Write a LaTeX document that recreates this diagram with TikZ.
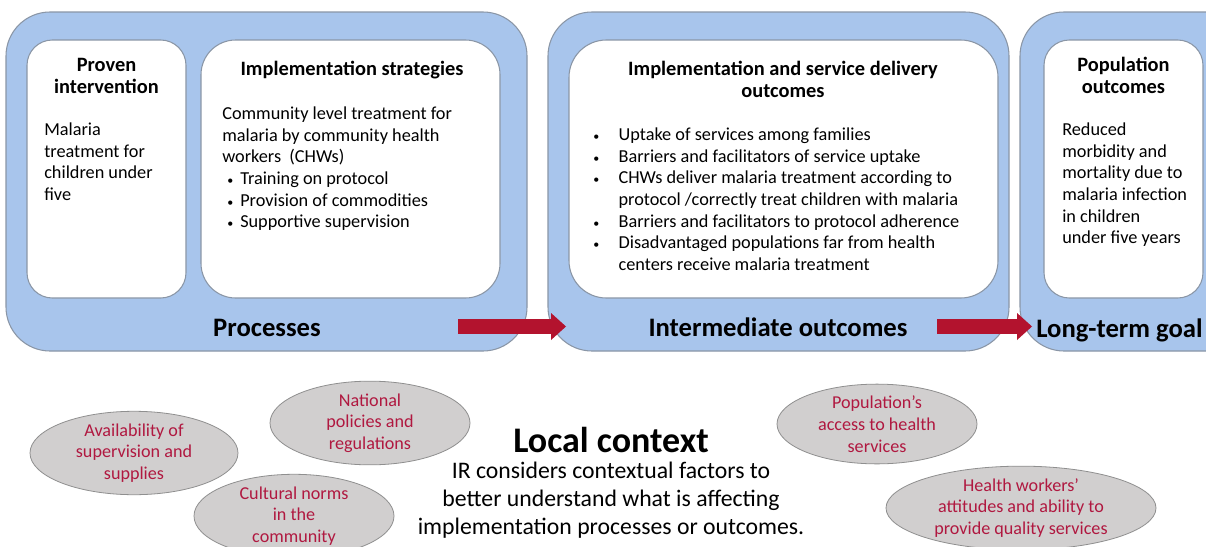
\documentclass[tikz,border=0pt]{standalone}
\usepackage{fontspec}
\setmainfont{Carlito}
\usetikzlibrary{arrows.meta,shapes.geometric,fit}
\definecolor{boxblue}{HTML}{A8C5EC}
\definecolor{boxline}{HTML}{8A96A6}
\definecolor{arrred}{HTML}{B3132E}
\definecolor{ellfill}{HTML}{D1CFCF}
\definecolor{ellline}{HTML}{8F8F8F}
\definecolor{elltext}{HTML}{B01840}
\newcommand\sbul{\hspace*{3.75pt}\makebox[9.75pt][l]{\small\textbullet}}
\newcommand\ibul{\makebox[19pt][l]{\small\textbullet}}
\begin{document}
\begin{tikzpicture}[x=0.75pt,y=-0.75pt,
  outerbox/.style={draw=boxline, line width=0.8pt, fill=boxblue, rounded corners=33pt, inner sep=0pt},
  innerbox/.style={draw=boxline, line width=0.8pt, fill=white, inner sep=0pt},
  txt/.style={inner sep=0pt, align=left, anchor=north west, font=\fontsize{13.7}{16.3}\selectfont},
  head/.style={inner sep=0pt, align=center, anchor=north, font=\fontsize{15.3}{16.3}\selectfont\bfseries},
  biglabel/.style={inner sep=0pt, font=\fontsize{20}{24}\selectfont\bfseries},
  ell/.style={ellipse, draw=ellline, line width=0.6pt, fill=ellfill, text=elltext, inner sep=0pt, align=center, font=\fontsize{13.6}{16.3}\selectfont},
  blockarrow/.style={draw=arrred, line width=11.25pt, -{Triangle[length=11.25pt,width=20.25pt,line width=0pt]}}
]
\fill[white] (0,0) rectangle (1206,546);
\useasboundingbox (0,0) rectangle (1206,546);

% outer boxes
\node[outerbox, fit={(6,12) (527,351)}] (proc) {};
\node[outerbox, fit={(548,12) (1009,351)}] (inter) {};
\node[outerbox, fit={(1020,12) (1250,351)}] (goal) {};

% inner boxes
\node[innerbox, rounded corners=19pt, fit={(27,40) (186,298)}] (proven) {};
\node[innerbox, rounded corners=26pt, fit={(201,40) (500,298)}] (strat) {};
\node[innerbox, rounded corners=28pt, fit={(569,40) (998,298)}] (isd) {};
\node[innerbox, rounded corners=19pt, fit={(1044,40) (1203,298)}] (popout) {};

% texts in inner boxes
\node[head] (provenH) at (106.5,55.8) {\strut Proven\\intervention};
\node[txt] (provenT) at (44,119.8) {\strut Malaria\\treatment for\\children under\\five};

\node[head] (stratH) at (352,59.8) {\strut Implementation strategies};
\node[txt] (stratT) at (222,103.8) {\strut Community level treatment for\\malaria by community health\\workers\ \ (CHWs)\\
\sbul Training on protocol\\\sbul Provision of commodities\\\sbul Supportive supervision};

\node[head] (isdH) at (783,59.8) {\strut Implementation and service delivery\\outcomes};
\node[txt] (isdT) at (593,124.8) {\strut\ibul Uptake of services among families\\
\ibul Barriers and facilitators of service uptake\\
\ibul CHWs deliver malaria treatment according to\\
\hspace*{19pt}protocol /correctly treat children with malaria\\
\ibul Barriers and facilitators to protocol adherence\\
\ibul Disadvantaged populations far from health\\
\hspace*{19pt}centers receive malaria treatment};

\node[head] (popH) at (1123.5,55.8) {\strut Population\\outcomes};
\node[txt] (popT) at (1062,119.8) {\strut Reduced\\morbidity and\\mortality due to\\malaria infection\\in children\\under five years};

% big labels
\node[biglabel, anchor=base] (procL) at (267,336) {Processes};
\node[biglabel, anchor=base] (interL) at (778,336) {Intermediate outcomes};
\node[biglabel, anchor=base west] (goalL) at (1036,337) {Long-term goal};

% arrows
\coordinate (a1s) at (458,326.5);
\coordinate (a1e) at (566,326.5);
\coordinate (a2s) at (937,326.5);
\coordinate (a2e) at (1032,326.5);
\draw[blockarrow] (a1s) -- (a1e);
\draw[blockarrow] (a2s) -- (a2e);

% local context
\node[inner sep=0pt, anchor=base, font=\fontsize{27}{30}\selectfont\bfseries] (lcH) at (611,452) {Local context};
\node[inner sep=0pt, anchor=north, align=center, font=\fontsize{17.8}{21}\selectfont] (lcT) at (611,458.4) {\strut IR considers contextual factors to\\better understand what is affecting\\implementation processes or outcomes.};

% ellipses
\node[ell, minimum width=208*0.75pt, minimum height=74*0.75pt] (avail) at (134,453) {Availability of\\supervision and\\supplies};
\node[ell, minimum width=200*0.75pt, minimum height=75*0.75pt] (natl) at (370,423) {National\\policies and\\regulations};
\node[ell, minimum width=200*0.75pt, minimum height=74*0.75pt] (cult) at (294,516) {Cultural norms\\in the\\community};
\node[ell, minimum width=200*0.75pt, minimum height=75*0.75pt] (access) at (877,424) {Population’s\\access to health\\services};
\node[ell, minimum width=270*0.75pt, minimum height=76*0.75pt] (hw) at (1021,508) {Health workers’\\attitudes and ability to\\provide quality services};
\end{tikzpicture}
\end{document}
